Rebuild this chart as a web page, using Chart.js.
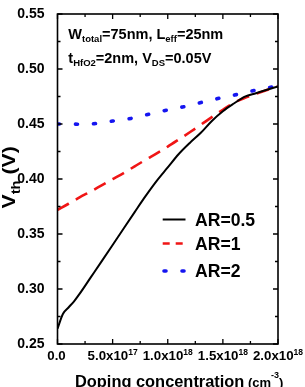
<!DOCTYPE html>
<html><head><meta charset="utf-8">
<script src="https://cdn.jsdelivr.net/npm/chart.js@4.4.0/dist/chart.umd.min.js"></script>
<style>html,body{margin:0;padding:0;background:#fff;overflow:hidden}#wrap{width:305px;height:387px;position:relative}</style>
</head><body><div id="wrap"><canvas id="c" width="305" height="387"></canvas></div>
<script>
// ---- data ----
const dopingAR05 = [0, 5e16, 1e17, 1.5e17, 2e17, 3e17, 4e17, 5e17, 6e17, 7e17, 8e17, 9e17, 1e18, 1.1e18, 1.2e18, 1.3e18, 1.4e18, 1.5e18, 1.6e18, 1.7e18, 1.8e18, 1.9e18, 2e18];
const vthAR05 = [0.264, 0.2775, 0.2832, 0.2888, 0.2955, 0.3103, 0.3251, 0.340, 0.355, 0.3699, 0.3846, 0.3983, 0.4105, 0.4227, 0.4328, 0.442, 0.4528, 0.4616, 0.4686, 0.4749, 0.478, 0.4811, 0.4842];
const doping = [0, 1e17, 2e17, 3e17, 4e17, 5e17, 6e17, 7e17, 8e17, 9e17, 1e18, 1.1e18, 1.2e18, 1.3e18, 1.4e18, 1.5e18, 1.6e18, 1.7e18, 1.8e18, 1.9e18, 2e18];
const vthAR1 = [0.372, 0.3775, 0.3833, 0.3886, 0.3942, 0.3998, 0.4054, 0.4115, 0.4175, 0.4232, 0.4294, 0.4359, 0.4425, 0.4493, 0.4563, 0.4629, 0.4693, 0.4738, 0.4774, 0.4809, 0.4842];
const vthAR2 = [0.450, 0.4500, 0.4498, 0.4500, 0.4512, 0.4527, 0.454, 0.4557, 0.4582, 0.4605, 0.4628, 0.4648, 0.4668, 0.4695, 0.4718, 0.4742, 0.4762, 0.4785, 0.4808, 0.4828, 0.4845];
const seriesLabels = ['AR=0.5', 'AR=1', 'AR=2'];
const xTicks = [0, 5e17, 1e18, 1.5e18, 2e18];
const xTickMain = ['0.0', '5.0x10', '1.0x10', '1.5x10', '2.0x10'];
const xTickSup = ['', '17', '18', '18', '18'];
const yTicks = [0.25, 0.30, 0.35, 0.40, 0.45, 0.50, 0.55];
const yTickLabels = ['0.25', '0.30', '0.35', '0.40', '0.45', '0.50', '0.55'];

const FONT = "'Liberation Sans', Arial, Helvetica, sans-serif";
const pts = (xs, ys) => xs.map((x, i) => ({x, y: ys[i]}));

function rich(ctx, parts, x, y, align) {
  let w = 0;
  parts.forEach(p => { ctx.font = 'bold ' + p.s + 'px ' + FONT; w += ctx.measureText(p.t).width; });
  let cx = align === 'center' ? x - w / 2 : x;
  parts.forEach(p => {
    ctx.font = 'bold ' + p.s + 'px ' + FONT;
    ctx.fillText(p.t, cx, y + (p.dy || 0));
    cx += ctx.measureText(p.t).width;
  });
}

const deco = {
  id: 'deco',
  afterDraw(chart) {
    const ctx = chart.ctx, a = chart.chartArea, xs = chart.scales.x, ys = chart.scales.y;
    ctx.save();
    ctx.strokeStyle = '#000'; ctx.fillStyle = '#000';
    // frame
    ctx.lineWidth = 1.6;
    ctx.strokeRect(a.left, a.top, a.right - a.left, a.bottom - a.top);
    // inward ticks
    ctx.lineWidth = 1.3;
    for (let i = 0; i < xTicks.length; i++) {
      const px = xs.getPixelForValue(xTicks[i]);
      ctx.beginPath(); ctx.moveTo(px, a.bottom); ctx.lineTo(px, a.bottom - 5);
      ctx.moveTo(px, a.top); ctx.lineTo(px, a.top + 5); ctx.stroke();
      if (i < xTicks.length - 1) {
        const pm = xs.getPixelForValue((xTicks[i] + xTicks[i + 1]) / 2);
        ctx.beginPath(); ctx.moveTo(pm, a.bottom); ctx.lineTo(pm, a.bottom - 3);
        ctx.moveTo(pm, a.top); ctx.lineTo(pm, a.top + 3); ctx.stroke();
      }
    }
    for (let i = 0; i < yTicks.length; i++) {
      const py = ys.getPixelForValue(yTicks[i]);
      ctx.beginPath(); ctx.moveTo(a.left, py); ctx.lineTo(a.left + 5, py);
      ctx.moveTo(a.right, py); ctx.lineTo(a.right - 5, py); ctx.stroke();
      if (i < yTicks.length - 1) {
        const pm = ys.getPixelForValue((yTicks[i] + yTicks[i + 1]) / 2);
        ctx.beginPath(); ctx.moveTo(a.left, pm); ctx.lineTo(a.left + 3, pm);
        ctx.moveTo(a.right, pm); ctx.lineTo(a.right - 3, pm); ctx.stroke();
      }
    }
    // x tick labels with superscripts
    ctx.textBaseline = 'alphabetic'; ctx.textAlign = 'left';
    for (let i = 0; i < xTicks.length; i++) {
      const px = xs.getPixelForValue(xTicks[i]);
      const parts = [{t: xTickMain[i], s: 13.3}];
      if (xTickSup[i]) parts.push({t: xTickSup[i], s: 8.5, dy: -5});
      rich(ctx, parts, px - (i === 0 ? 1 : 0), a.bottom + 16, 'center');
    }
    // x title
    rich(ctx, [{t: 'Doping concentration', s: 16.4}, {t: ' (cm', s: 13}, {t: '-3', s: 9, dy: -9}, {t: ')', s: 13}], 75, a.bottom + 42.5, 'left');
    // y title (rotated)
    ctx.save();
    ctx.translate(15, 208.5);
    ctx.rotate(-Math.PI / 2);
    ctx.scale(1.18, 1);
    rich(ctx, [{t: 'V', s: 18}, {t: 'th', s: 12.5, dy: 5}, {t: ' (V)', s: 18}], 0, 0, 'left');
    ctx.restore();
    // annotation
    rich(ctx, [{t: 'W', s: 14.5}, {t: 'total', s: 9.5, dy: 3}, {t: '=75nm, L', s: 14.5}, {t: 'eff', s: 9.5, dy: 3}, {t: '=25nm', s: 14.5}], 68.3, 39, 'left');
    rich(ctx, [{t: 't', s: 14.5}, {t: 'HfO2', s: 9.5, dy: 3}, {t: '=2nm, V', s: 14.5}, {t: 'DS', s: 9.5, dy: 3}, {t: '=0.05V', s: 14.5}], 68.3, 62.7, 'left');
    // legend
    const ly = [219.5, 243.5, 271];
    chart.data.datasets.forEach((ds, i) => {
      ctx.save();
      ctx.strokeStyle = ds.borderColor; ctx.lineWidth = ds.borderWidth;
      ctx.lineCap = ds.borderCapStyle || 'butt';
      ctx.setLineDash(i === 1 ? [7, 6] : (ds.borderDash || []));
      ctx.beginPath();
      if (i === 2) { ctx.moveTo(164, ly[i]); ctx.lineTo(185, ly[i]); }
      else { ctx.moveTo(162.7, ly[i]); ctx.lineTo(185.5, ly[i]); }
      ctx.stroke();
      ctx.restore();
      ctx.font = 'bold 17.6px ' + FONT;
      ctx.fillStyle = '#000';
      ctx.fillText(ds.label, 195, ly[i] + 6.3);
    });
    ctx.restore();
  }
};

new Chart(document.getElementById('c'), {
  type: 'line',
  data: {
    datasets: [
      {label: seriesLabels[0], data: pts(dopingAR05, vthAR05), borderColor: '#000000', borderWidth: 2, pointRadius: 0, tension: 0.35, cubicInterpolationMode: 'monotone', fill: false},
      {label: seriesLabels[1], data: pts(doping, vthAR1), borderColor: '#f01515', borderWidth: 2.6, borderDash: [13, 8], pointRadius: 0, cubicInterpolationMode: 'monotone', fill: false},
      {label: seriesLabels[2], data: pts(doping, vthAR2), borderColor: '#1515f0', borderWidth: 3.6, borderDash: [2, 16], borderCapStyle: 'round', pointRadius: 0, cubicInterpolationMode: 'monotone', fill: false}
    ]
  },
  options: {
    responsive: false,
    animation: false,
    devicePixelRatio: 1,
    layout: {padding: {left: 0, right: 27, top: 14, bottom: 0}},
    plugins: {legend: {display: false}, tooltip: {enabled: false}},
    scales: {
      x: {
        type: 'linear', min: 0, max: 2e18,
        grid: {display: false}, border: {display: false},
        ticks: {display: false},
        afterFit: s => { s.height = 43; }
      },
      y: {
        type: 'linear', min: 0.25, max: 0.55,
        grid: {display: false}, border: {display: false},
        afterBuildTicks: s => { s.ticks = yTicks.map(v => ({value: v})); },
        ticks: {
          padding: 5, color: '#000',
          font: {family: FONT, size: 14, weight: 'bold'},
          callback: (v, i) => yTickLabels[i]
        },
        afterFit: s => { s.width = 57.5; }
      }
    }
  },
  plugins: [deco]
});
</script>
</body></html>
